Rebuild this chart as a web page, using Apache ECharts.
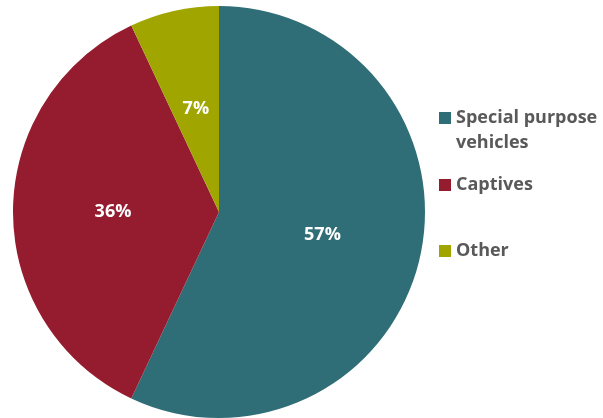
<!DOCTYPE html>
<html><head><meta charset="utf-8">
<script src="https://cdn.jsdelivr.net/npm/echarts@6/dist/echarts.min.js"></script>
<style>html,body{margin:0;padding:0;background:#fff}#c{width:603px;height:418px}</style>
</head><body><div id="c"></div>
<script>
const categories = ['Special purpose vehicles', 'Captives', 'Other'];
const values = [57, 36, 7];
const colors = ['#306E77', '#951C2F', '#A0A500'];

const chart = echarts.init(document.getElementById('c'));
const legendFont = {fontFamily: 'Open Sans', fontWeight: 'bold', fontSize: 18, color: '#595959'};
const legendTops = [104, 171, 237];
const legends = categories.map((c, i) => ({
  data: [c], left: 434, top: legendTops[i], orient: 'vertical',
  icon: 'rect', itemWidth: 12, itemHeight: 12, itemGap: 0,
  textStyle: legendFont, selectedMode: false,
  formatter: n => n === 'Special purpose vehicles' ? 'Special purpose' : n
}));
chart.setOption({
  animation: false,
  color: colors,
  legend: legends,
  graphic: [{type: 'text', left: 456, top: 134, style: {text: 'vehicles', font: 'bold 18px "Open Sans"', fill: '#595959'}}],
  series: [{
    type: 'pie', center: [219, 212], radius: [0, 206], startAngle: 90, clockwise: true,
    label: {position: 'inside', formatter: '{c}%', color: '#fff', fontFamily: 'Open Sans', fontWeight: 'bold', fontSize: 18},
    labelLine: {show: false},
    itemStyle: {borderWidth: 0},
    emphasis: {disabled: true},
    data: categories.map((c, i) => ({name: c, value: values[i]}))
  }]
});
</script></body></html>
